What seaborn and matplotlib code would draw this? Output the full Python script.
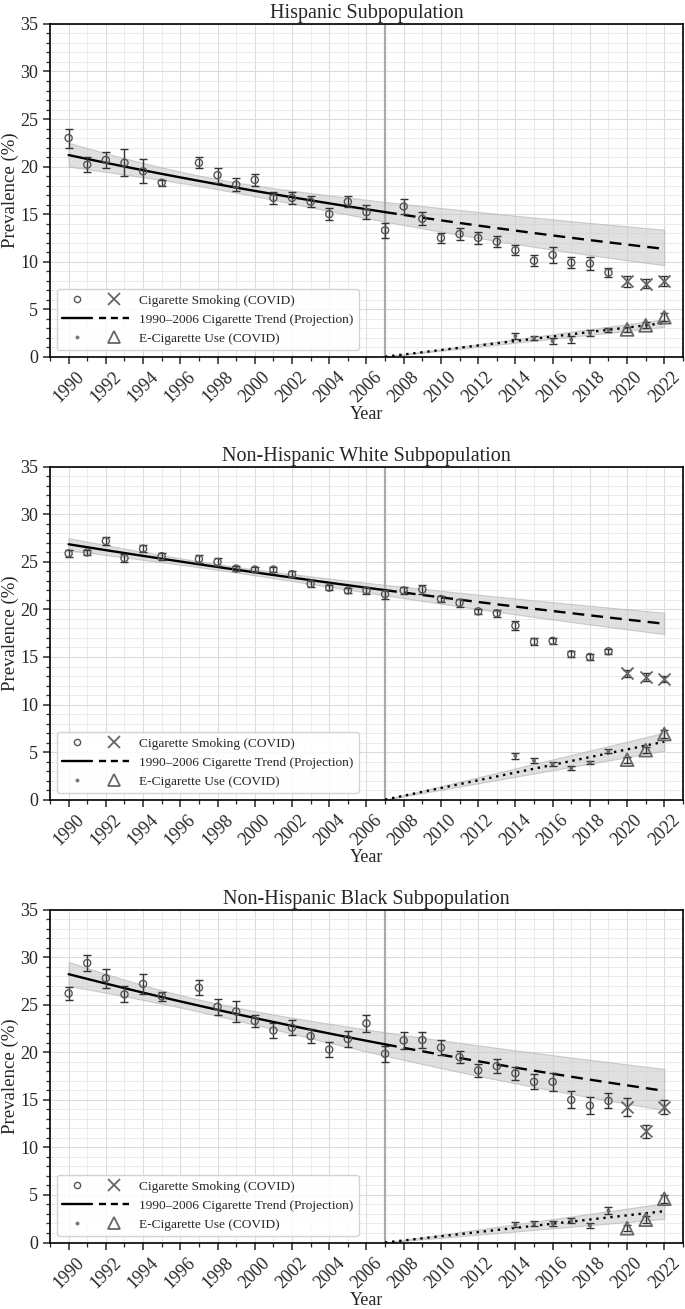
import numpy as np
import pandas as pd
import matplotlib
matplotlib.use("Agg")
import matplotlib.pyplot as plt
import seaborn as sns
from matplotlib.lines import Line2D
from matplotlib.legend_handler import HandlerTuple
from matplotlib.ticker import MultipleLocator

# ---- data ----
cig_years = [1990, 1991, 1992, 1993, 1994, 1995, 1997, 1998, 1999, 2000, 2001,
             2002, 2003, 2004, 2005, 2006, 2007, 2008, 2009, 2010, 2011, 2012,
             2013, 2014, 2015, 2016, 2017, 2018, 2019, 2020, 2021, 2022]
ecig_years = [2014, 2015, 2016, 2017, 2018, 2019, 2020, 2021, 2022]

titles = ["Hispanic Subpopulation",
          "Non-Hispanic White Subpopulation",
          "Non-Hispanic Black Subpopulation"]

hisp_cig = [23.0, 20.2, 20.7, 20.4, 19.5, 18.3, 20.4, 19.1, 18.1, 18.6, 16.7,
            16.7, 16.3, 15.0, 16.3, 15.2, 13.3, 15.8, 14.5, 12.5, 12.9, 12.5,
            12.1, 11.2, 10.1, 10.7, 9.9, 9.8, 8.85, 7.95, 7.7, 7.95]
hisp_cig_err = [1.0, 0.8, 0.85, 1.4, 1.25, 0.3, 0.6, 0.8, 0.65, 0.67, 0.67,
                0.6, 0.6, 0.6, 0.6, 0.75, 0.8, 0.8, 0.67, 0.56, 0.6, 0.63,
                0.55, 0.5, 0.55, 0.8, 0.6, 0.7, 0.47, 0.58, 0.5, 0.5]
hisp_ecig = [2.17, 2.0, 1.65, 1.8, 2.5, 2.8, 2.87, 3.3, 4.16]
hisp_ecig_err = [0.35, 0.2, 0.3, 0.35, 0.3, 0.25, 0.3, 0.3, 0.4]

nhw_cig = [25.9, 26.0, 27.2, 25.4, 26.4, 25.6, 25.3, 25.0, 24.3, 24.2, 24.2,
           23.7, 22.7, 22.3, 22.0, 22.0, 21.6, 22.0, 22.1, 21.1, 20.7, 19.8,
           19.6, 18.3, 16.6, 16.7, 15.3, 15.0, 15.6, 13.3, 12.9, 12.7]
nhw_cig_err = [0.35, 0.3, 0.45, 0.4, 0.4, 0.35, 0.4, 0.4, 0.3, 0.3, 0.3,
               0.3, 0.3, 0.3, 0.3, 0.35, 0.45, 0.4, 0.45, 0.35, 0.4, 0.3,
               0.35, 0.45, 0.35, 0.35, 0.3, 0.3, 0.25, 0.38, 0.38, 0.35]
nhw_ecig = [4.6, 4.1, 3.75, 3.3, 3.9, 5.1, 4.2, 5.2, 6.9]
nhw_ecig_err = [0.28, 0.25, 0.2, 0.2, 0.2, 0.25, 0.3, 0.35, 0.4]

nhb_cig = [26.2, 29.4, 27.8, 26.1, 27.2, 25.9, 26.8, 24.8, 24.3, 23.3, 22.3,
           22.6, 21.7, 20.3, 21.4, 23.05, 19.85, 21.25, 21.3, 20.5, 19.5, 18.1,
           18.55, 17.8, 16.9, 16.9, 15.0, 14.4, 14.9, 14.3, 11.7, 14.25]
nhb_cig_err = [0.65, 0.8, 1.0, 0.83, 1.04, 0.47, 0.76, 0.83, 1.07, 0.65, 0.74,
               0.8, 0.72, 0.83, 0.83, 0.93, 0.86, 0.93, 0.84, 0.76, 0.67, 0.67,
               0.7, 0.67, 0.8, 0.93, 0.9, 0.88, 0.8, 0.95, 0.7, 0.78]
nhb_ecig = [1.9, 2.0, 2.0, 2.3, 1.8, 3.35, 1.5, 2.4, 4.6]
nhb_ecig_err = [0.3, 0.3, 0.3, 0.3, 0.3, 0.4, 0.3, 0.35, 0.4]

TREND_LAST = 2006      # cigarette trend fitted on 1990-2006
BREAK_YEAR = 2007      # projection / e-cig start
COVID_START = 2020
T_CIG = 2.145          # t(0.975, df=14)
T_ECIG = 2.306         # t(0.975, df=8)

cig_all = [hisp_cig, nhw_cig, nhb_cig]
cig_err_all = [hisp_cig_err, nhw_cig_err, nhb_cig_err]
ecig_all = [hisp_ecig, nhw_ecig, nhb_ecig]
ecig_err_all = [hisp_ecig_err, nhw_ecig_err, nhb_ecig_err]


def loglinear_fit(x, y, err, grid):
    # weighted least squares on log prevalence (weights 1/se^2)
    x = np.asarray(x, float) - 1990
    y = np.asarray(y, float)
    ly = np.log(y)
    w = (y / np.asarray(err, float)) ** 2
    X = np.column_stack([np.ones_like(x), x])
    XtW = X.T * w
    inv = np.linalg.inv(XtW @ X)
    beta = inv @ (XtW @ ly)
    r = ly - X @ beta
    s2 = np.sum(w * r ** 2) / (len(x) - 2)
    cov = s2 * inv
    G = np.column_stack([np.ones_like(grid), grid - 1990])
    fit = G @ beta
    se = np.sqrt(np.einsum("ij,jk,ik->i", G, cov, G))
    return np.exp(fit), np.exp(fit - T_CIG * se), np.exp(fit + T_CIG * se)


def origin_fit(x, y, grid):
    # linear growth starting at zero in BREAK_YEAR
    x = np.asarray(x, float) - BREAK_YEAR
    y = np.asarray(y, float)
    b = np.sum(x * y) / np.sum(x * x)
    s = np.sqrt(np.sum((y - b * x) ** 2) / (len(x) - 1))
    se_b = s / np.sqrt(np.sum(x * x))
    g = grid - BREAK_YEAR
    return b * g, (b - T_ECIG * se_b) * g, (b + T_ECIG * se_b) * g


sns.set_theme(style="ticks", rc={"axes.edgecolor": "black",
                                 "axes.linewidth": 1.2,
                                 "xtick.direction": "out",
                                 "ytick.direction": "out"})
plt.rcParams["font.family"] = ["Liberation Serif", "DejaVu Serif"]

fig, axes = plt.subplots(3, 1, figsize=(6.85, 13.09), dpi=100)
fig.subplots_adjust(left=0.073, right=0.997, top=0.9817, bottom=0.0508,
                    hspace=0.331)

cig_grid = np.linspace(1990, 2022, 129)
ecig_grid = np.linspace(BREAK_YEAR, 2022, 61)

pt_col = "#555555"
cov_col = "#666666"
err_col = "#333333"

for i, ax in enumerate(axes):
    df = pd.DataFrame({"year": cig_years, "prev": cig_all[i], "err": cig_err_all[i]})
    de = pd.DataFrame({"year": ecig_years, "prev": ecig_all[i], "err": ecig_err_all[i]})
    pre = df[df.year < COVID_START]
    cov = df[df.year >= COVID_START]
    epre = de[de.year < COVID_START]
    ecov = de[de.year >= COVID_START]

    # trends
    fitdf = df[df.year <= TREND_LAST]
    fit, lo, hi = loglinear_fit(fitdf.year, fitdf.prev, fitdf.err, cig_grid)
    ax.fill_between(cig_grid, lo, hi, color="#c8c8c8", alpha=0.55,
                    edgecolor="#aaaaaa", linewidth=0.8, zorder=1)
    m1 = cig_grid <= BREAK_YEAR
    m2 = cig_grid >= BREAK_YEAR
    sns.lineplot(x=cig_grid[m1], y=fit[m1], ax=ax, color="black", lw=1.7,
                 estimator=None, zorder=3)
    sns.lineplot(x=cig_grid[m2], y=fit[m2], ax=ax, color="black", lw=1.7,
                 linestyle=(0, (5, 3)), estimator=None, zorder=3)

    efit, elo, ehi = origin_fit(de.year, de.prev, ecig_grid)
    ax.fill_between(ecig_grid, elo, ehi, color="#c8c8c8", alpha=0.55,
                    edgecolor="#aaaaaa", linewidth=0.8, zorder=1)
    sns.lineplot(x=ecig_grid, y=efit, ax=ax, color="black", lw=1.7,
                 linestyle=(0, (1, 2)), estimator=None, zorder=3)

    ax.axvline(BREAK_YEAR, color="#aaaaaa", lw=1.6, zorder=2)

    # error bars
    for d in (df, de):
        ax.errorbar(d.year, d.prev, yerr=d.err, fmt="none", ecolor=err_col,
                    elinewidth=1.0, capsize=3.0, capthick=1.0, zorder=4)

    # markers
    sns.scatterplot(data=pre, x="year", y="prev", ax=ax, marker="o", s=26,
                    facecolor="none", edgecolor=pt_col, linewidth=1.0, zorder=5)
    sns.scatterplot(data=cov, x="year", y="prev", ax=ax, marker="x", s=75,
                    color=cov_col, linewidth=1.3, zorder=5)
    sns.scatterplot(data=epre, x="year", y="prev", ax=ax, marker="o", s=8,
                    color="#666666", edgecolor="none", zorder=5)
    sns.scatterplot(data=ecov, x="year", y="prev", ax=ax, marker="^", s=85,
                    facecolor="none", edgecolor=cov_col, linewidth=1.3, zorder=5)

    ax.set_xlim(1989, 2023)
    ax.set_ylim(0, 35)
    ax.xaxis.set_major_locator(MultipleLocator(2))
    ax.xaxis.set_minor_locator(MultipleLocator(1))
    ax.yaxis.set_major_locator(MultipleLocator(5))
    ax.yaxis.set_minor_locator(MultipleLocator(1))
    ax.grid(which="major", color="#dcdcdc", lw=0.8)
    ax.grid(which="minor", color="#e8e8e8", lw=0.6)
    ax.set_axisbelow(True)
    ax.tick_params(axis="both", which="major", labelsize=13, length=5, width=1.1)
    ax.tick_params(axis="both", which="minor", length=3, width=0.9)
    ax.tick_params(axis="x", labelrotation=45)
    for sp in ax.spines.values():
        sp.set_visible(True)
        sp.set_color("black")

    ax.set_title(titles[i], fontsize=14.5, pad=4)
    ax.set_xlabel("Year", fontsize=13, labelpad=0)
    ax.set_ylabel("Prevalence (%)", fontsize=13.5, labelpad=1)

    h1 = (Line2D([], [], marker="o", ls="none", mfc="none", mec=pt_col, ms=4.5, mew=1.0),
          Line2D([], [], marker="x", ls="none", color=cov_col, ms=8.5, mew=1.3))
    h2 = (Line2D([], [], color="black", lw=1.7),
          Line2D([], [], color="black", lw=1.7, ls=(0, (3, 2))))
    h3 = (Line2D([], [], marker="o", ls="none", color="#777777", ms=2.8, mec="none"),
          Line2D([], [], marker="^", ls="none", mfc="none", mec=cov_col, ms=9, mew=1.3))
    ax.legend([h1, h2, h3],
              ["Cigarette Smoking (COVID)",
               "1990\u20132006 Cigarette Trend (Projection)",
               "E-Cigarette Use (COVID)"],
              handler_map={tuple: HandlerTuple(ndivide=None, pad=0.5)},
              handlelength=5.0, loc="lower left", fontsize=9.6,
              frameon=True, fancybox=True, framealpha=0.85,
              edgecolor="#cccccc", borderaxespad=0.5, labelspacing=0.5)

fig.savefig("out.png", dpi=100)
